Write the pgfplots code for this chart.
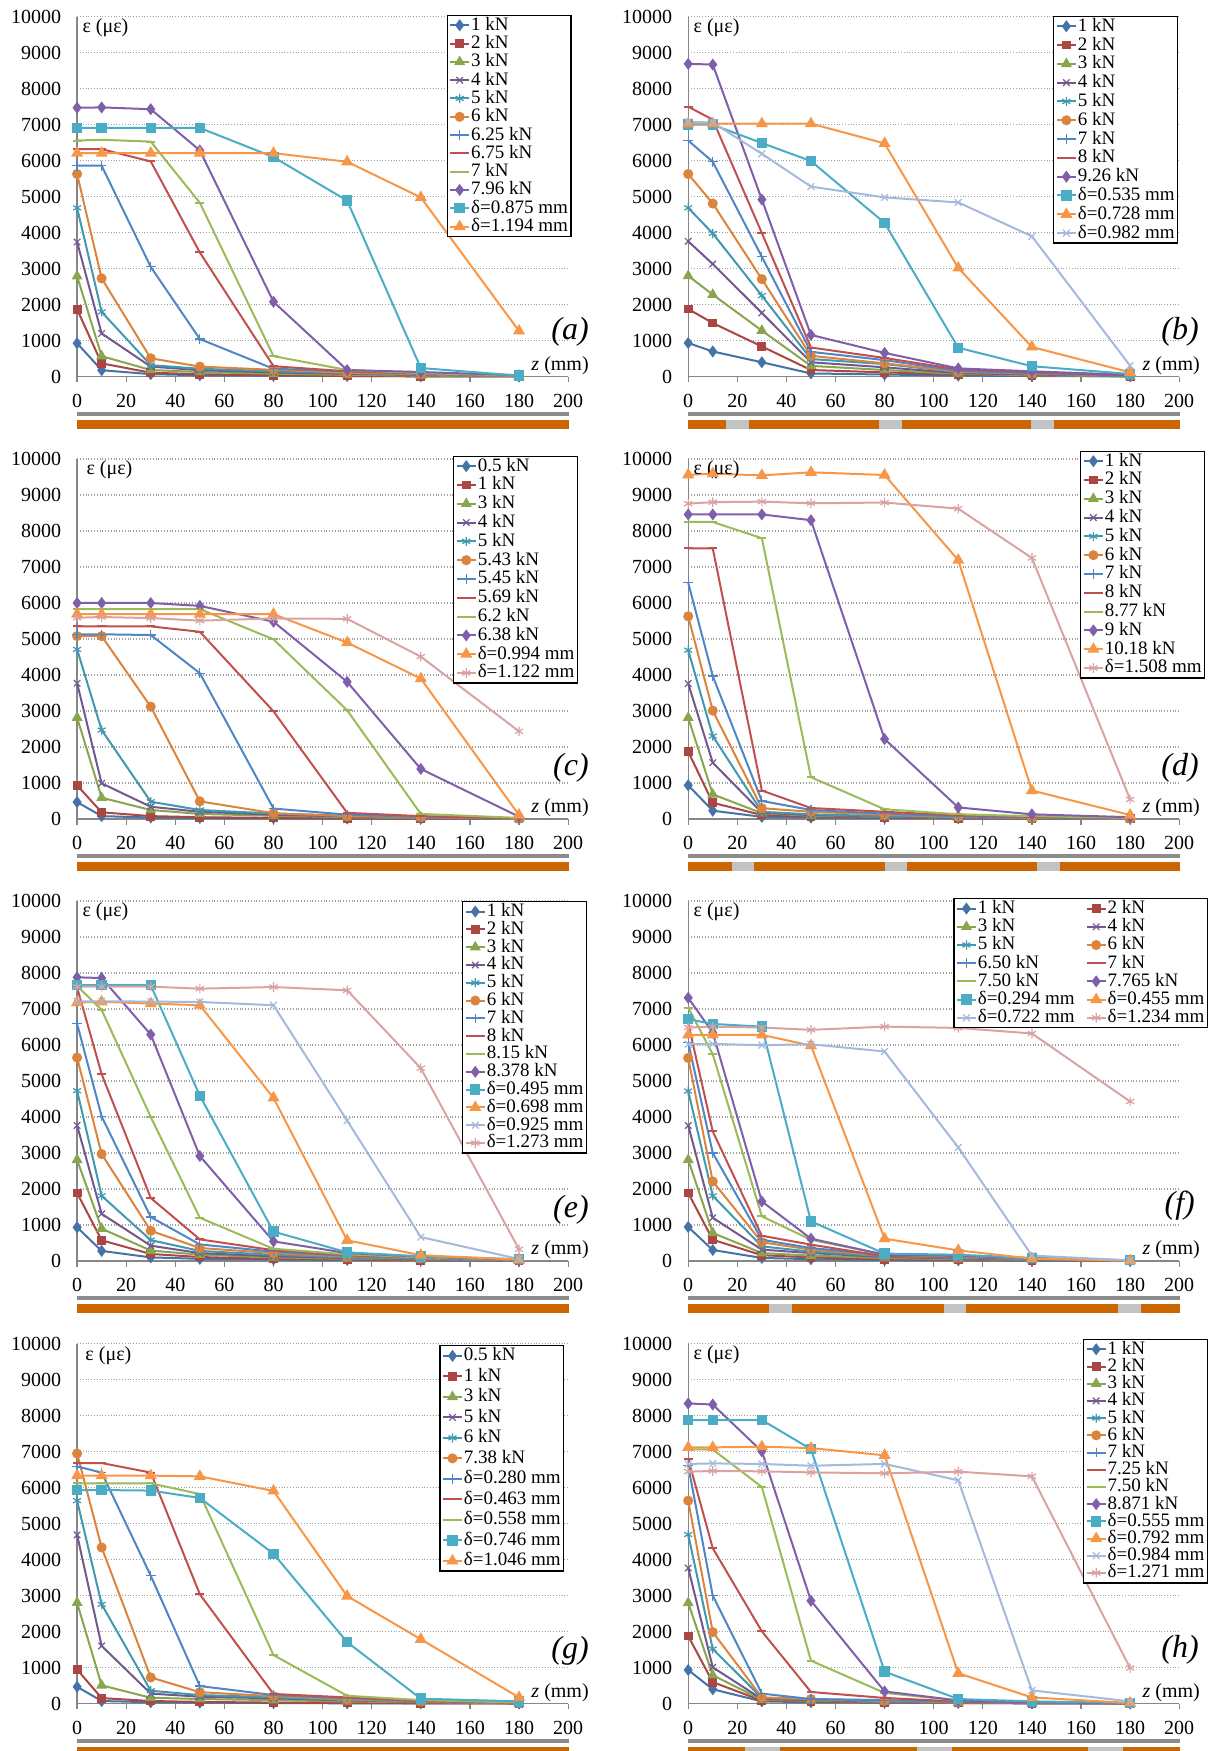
\documentclass[border=0pt]{standalone}
\usepackage{pgfplots}
\usepackage{pgfplotstable}
\pgfplotsset{compat=1.18}
\usepackage{fontspec}
\setmainfont{Liberation Serif}
\definecolor{c1}{HTML}{4572A7}
\definecolor{c2}{HTML}{AA4643}
\definecolor{c3}{HTML}{89A54E}
\definecolor{c4}{HTML}{71588F}
\definecolor{c5}{HTML}{4198AF}
\definecolor{c6}{HTML}{DB843D}
\definecolor{c7}{HTML}{4F86C6}
\definecolor{c8}{HTML}{C0504D}
\definecolor{c9}{HTML}{9BBB59}
\definecolor{c10}{HTML}{7F5FAA}
\definecolor{c11}{HTML}{4BACC6}
\definecolor{c12}{HTML}{F79646}
\definecolor{c13}{HTML}{A5B9DC}
\definecolor{c14}{HTML}{D9A3A2}
\definecolor{axisgray}{HTML}{868686}
\definecolor{gridgray}{HTML}{A0A0A0}
\definecolor{bargray}{HTML}{8C8C8C}
\definecolor{barorange}{HTML}{CC6600}
\definecolor{gaplight}{HTML}{C3C3C3}

\pgfplotstableread{
z p1 p2 p3 p4 p5 p6 p7 p8 p9 p10 p11 p12
0 930 1870 2790 3740 4690 5630 5860 6320 6560 7470 6910 6210
10 180 370 570 1200 1800 2730 5860 6320 6580 7480 6910 6210
30 70 110 185 280 320 510 3050 5980 6530 7430 6910 6210
50 40 70 130 180 220 280 1045 3450 4830 6285 6910 6210
80 30 40 80 120 150 190 220 290 570 2080 6100 6210
110 20 20 50 80 100 110 150 150 185 185 4890 5970
140 10 10 30 50 60 70 80 90 100 130 240 4980
180 5 5 10 20 20 20 30 30 30 40 30 1270
}\Ta
\pgfplotstableread{
z p1 p2 p3 p4 p5 p6 p7 p8 p10 p11 p12 p13
0 935 1880 2800 3760 4690 5630 6560 7500 8690 7000 7030 7080
10 700 1490 2280 3130 3980 4810 5970 7140 8670 7000 7030 7060
30 400 840 1280 1770 2250 2710 3330 3990 4920 6490 7030 6190
50 90 185 300 400 490 580 690 810 1160 5990 7030 5280
80 60 120 185 260 350 370 460 520 660 4270 6480 4980
110 30 60 80 100 130 140 160 200 230 805 3020 4840
140 20 30 40 60 80 90 100 120 150 290 825 3900
180 10 10 10 20 20 30 30 40 50 75 120 305
}\Tb
\pgfplotstableread{
z p1 p2 p3 p4 p5 p6 p7 p8 p9 p10 p12 p14
0 470 935 2815 3770 4710 5080 5130 5350 5830 6000 5690 5590
10 80 185 590 990 2470 5080 5130 5350 5830 6000 5690 5610
30 40 80 250 340 480 3120 5110 5350 5830 6000 5690 5580
50 30 50 140 200 250 490 4050 5200 5830 5920 5690 5510
80 20 30 90 120 150 160 290 2990 4990 5480 5690 5570
110 10 20 50 70 90 80 120 170 3020 3810 4900 5560
140 10 10 30 40 50 50 60 80 140 1390 3900 4510
180 5 5 10 10 10 10 20 20 30 65 110 2435
}\Tc
\pgfplotstableread{
z p1 p2 p3 p4 p5 p6 p7 p8 p9 p10 p12 p14
0 935 1870 2815 3760 4690 5630 6565 7520 8250 8460 9560 8760
10 230 450 685 1565 2305 3010 3970 7520 8250 8460 9590 8800
30 60 110 160 175 200 300 500 790 7800 8460 9545 8815
50 40 70 90 110 130 200 250 305 1160 8300 9630 8770
80 30 40 60 70 80 120 150 200 270 2220 9555 8790
110 20 20 40 40 50 60 70 100 130 320 7190 8620
140 10 10 20 20 30 30 40 60 80 130 790 7250
180 5 5 10 10 10 10 10 20 30 50 110 545
}\Td
\pgfplotstableread{
z p1 p2 p3 p4 p5 p6 p7 p8 p9 p10 p11 p12 p13 p14
0 935 1890 2810 3765 4730 5650 6590 7600 7640 7880 7660 7180 7215 7620
10 280 575 900 1310 1810 2970 4015 5190 6975 7860 7660 7200 7215 7620
30 100 195 290 425 580 840 1220 1750 4000 6290 7660 7150 7205 7620
50 60 110 175 220 280 360 460 600 1200 2915 4590 7105 7195 7565
80 40 60 100 130 170 220 260 300 340 545 815 4530 7105 7610
110 30 40 60 80 100 120 140 160 185 220 240 575 3900 7520
140 20 20 40 50 60 70 80 90 100 120 130 160 665 5355
180 10 10 10 10 20 20 20 30 30 40 50 40 55 325
}\Te
\pgfplotstableread{
z p1 p2 p3 p4 p5 p6 p7 p8 p9 p10 p11 p12 p13 p14
0 945 1890 2810 3765 4720 5640 6070 6605 7040 7310 6715 6280 6020 6485
10 305 590 780 1200 1810 2210 3000 3600 5745 6345 6585 6280 6030 6510
30 85 160 220 315 405 520 590 700 1240 1655 6510 6280 5995 6485
50 50 100 150 220 260 315 360 455 590 620 1100 5985 6020 6420
80 30 50 80 110 130 150 170 130 175 175 205 620 5820 6510
110 20 30 50 70 90 100 110 120 130 140 175 295 3155 6475
140 10 20 30 40 50 60 60 70 80 80 80 65 150 6320
180 5 5 10 10 10 10 10 10 10 10 20 10 20 4430
}\Tf
\pgfplotstableread{
z p1 p2 p3 p4 p5 p6 p7 p8 p9 p11 p12
0 470 950 2805 4690 5640 6950 6590 6685 6120 5935 6335
10 75 155 510 1605 2760 4340 6420 6685 6120 5935 6335
30 40 75 165 280 360 730 3555 6420 6120 5920 6335
50 30 50 130 195 240 320 490 3040 5825 5715 6315
80 20 30 100 150 180 210 240 270 1350 4165 5910
110 10 20 60 90 100 120 150 175 220 1710 2990
140 10 10 40 50 60 60 70 80 100 140 1790
180 5 5 10 10 10 10 20 20 30 65 175
}\Tg
\pgfplotstableread{
z p1 p2 p3 p4 p5 p6 p7 p8 p9 p10 p11 p12 p13 p14
0 935 1880 2800 3770 4700 5640 6610 6800 7070 8340 7880 7120 6660 6445
10 400 600 790 1010 1520 1990 3000 4320 7060 8310 7880 7120 6675 6465
30 65 85 110 130 160 175 280 2010 6020 7010 7880 7140 6660 6455
50 40 60 80 100 120 130 130 325 1195 2860 7070 7100 6610 6425
80 30 40 50 60 70 80 100 160 300 340 890 6900 6660 6400
110 20 20 30 40 40 50 50 60 90 90 130 845 6205 6445
140 10 10 20 20 20 30 30 30 40 40 65 175 370 6315
180 5 5 10 10 10 10 10 10 10 10 20 20 65 990
}\Th

\pgfplotsset{
  s1/.style={color=c1, line width=1pt, mark=diamond*, mark size=2.2pt, mark options={fill=c1}},
  s2/.style={color=c2, line width=1pt, mark=square*, mark size=1.7pt, mark options={fill=c2}},
  s3/.style={color=c3, line width=1pt, mark=triangle*, mark size=2.2pt, mark options={fill=c3}},
  s4/.style={color=c4, line width=1pt, mark=x, mark size=2.3pt, mark options={line width=0.6pt}},
  s5/.style={color=c5, line width=1pt, mark=asterisk, mark size=2.3pt, mark options={line width=0.6pt}},
  s6/.style={color=c6, line width=1pt, mark=*, mark size=2pt, mark options={fill=c6}},
  s7/.style={color=c7, line width=1pt, mark=+, mark size=2.4pt, mark options={line width=0.6pt}},
  s8/.style={color=c8, line width=1pt, mark=-, mark size=2.2pt},
  s9/.style={color=c9, line width=1pt, mark=-, mark size=2.2pt},
  s10/.style={color=c10, line width=1pt, mark=diamond*, mark size=2.2pt, mark options={fill=c10}},
  s11/.style={color=c11, line width=1pt, mark=square*, mark size=2.1pt, mark options={fill=c11}},
  s12/.style={color=c12, line width=1pt, mark=triangle*, mark size=2.5pt, mark options={fill=c12}},
  s13/.style={color=c13, line width=1pt, mark=x, mark size=2.4pt, mark options={line width=0.6pt}},
  s14/.style={color=c14, line width=1pt, mark=asterisk, mark size=2.4pt, mark options={line width=0.6pt}},
  panel/.style={
    scale only axis, width=245.5pt, height=180pt, anchor=south west,
    xmin=0, xmax=200, ymin=0, ymax=10000,
    xtick={0,20,...,200}, ytick={0,1000,...,10000},
    axis x line*=bottom, axis y line*=left,
    axis line style={-, draw=axisgray, line width=0.7pt},
    tick align=outside, major tick length=2.8pt,
    xtick style={draw=axisgray, line width=0.6pt},
    ytick style={draw=none},
    ymajorgrids, grid style={densely dotted, draw=gridgray, line width=0.55pt},
    tick label style={font=\fontsize{10}{12}\selectfont},
    xticklabel={\pgfmathprintnumber[assume math mode=true]{\tick}},
    yticklabel={\pgfmathprintnumber[fixed,1000 sep={},assume math mode=true]{\tick}},
    xticklabel style={yshift=-2.2pt},
    yticklabel style={xshift=-1.7pt},
    scaled ticks=false,
    clip=false,
    legend cell align=left,
    legend image code/.code={\draw[mark repeat=2,mark phase=2] plot coordinates {(0pt,0pt) (4.75pt,0pt) (9.5pt,0pt)};},
    legend style={at={(1,1)}, anchor=north east, draw=black, line width=0.6pt, fill=white,
      font=\fontsize{9.5}{9.5}\selectfont, inner sep=1pt,
      nodes={inner ysep=0pt, inner xsep=0.5pt, text height=6.5pt, text depth=1.5pt}},
  },
}

\begin{document}
\begin{tikzpicture}
\useasboundingbox (0,0) rectangle (605.5pt,875.5pt);

% (a)
\begin{axis}[panel, at={(38.55pt,687.15pt)},
  legend style={xshift=1.7pt, yshift=1pt, row sep=1.15pt}]
\addplot[s1] table[x=z,y=p1]{\Ta}; \addlegendentry{1 kN}
\addplot[s2] table[x=z,y=p2]{\Ta}; \addlegendentry{2 kN}
\addplot[s3] table[x=z,y=p3]{\Ta}; \addlegendentry{3 kN}
\addplot[s4] table[x=z,y=p4]{\Ta}; \addlegendentry{4 kN}
\addplot[s5] table[x=z,y=p5]{\Ta}; \addlegendentry{5 kN}
\addplot[s6] table[x=z,y=p6]{\Ta}; \addlegendentry{6 kN}
\addplot[s7] table[x=z,y=p7]{\Ta}; \addlegendentry{6.25 kN}
\addplot[s8] table[x=z,y=p8]{\Ta}; \addlegendentry{6.75 kN}
\addplot[s9] table[x=z,y=p9]{\Ta}; \addlegendentry{7 kN}
\addplot[s10] table[x=z,y=p10]{\Ta}; \addlegendentry{7.96 kN}
\addplot[s11] table[x=z,y=p11]{\Ta}; \addlegendentry{δ=0.875 mm}
\addplot[s12] table[x=z,y=p12]{\Ta}; \addlegendentry{δ=1.194 mm}
\node[anchor=west, inner sep=0pt, font=\fontsize{10}{12}\selectfont, xshift=2.5pt, yshift=-5.5pt] at (rel axis cs:0,1) {ε (με)};
\node[anchor=east, inner sep=0pt, font=\fontsize{10}{12}\selectfont, xshift=10.5pt, yshift=5.5pt] at (rel axis cs:1,0) {\textit{z} (mm)};
\node[anchor=east, inner sep=0pt, font=\fontsize{16}{16}\selectfont\itshape, xshift=10.5pt, yshift=22.5pt] at (rel axis cs:1,0) {(a)};
\fill[bargray] ([yshift=-17.75pt]axis cs:0,0) rectangle ([yshift=-19.75pt]axis cs:200.5,0);
\fill[barorange] ([yshift=-21.65pt]axis cs:0,0) rectangle ([yshift=-26.15pt]axis cs:200.5,0);
\end{axis}

% (b)
\begin{axis}[panel, at={(344.1pt,687.15pt)},
  legend style={xshift=-0.5pt, yshift=0.5pt, row sep=1.4pt}]
\addplot[s1] table[x=z,y=p1]{\Tb}; \addlegendentry{1 kN}
\addplot[s2] table[x=z,y=p2]{\Tb}; \addlegendentry{2 kN}
\addplot[s3] table[x=z,y=p3]{\Tb}; \addlegendentry{3 kN}
\addplot[s4] table[x=z,y=p4]{\Tb}; \addlegendentry{4 kN}
\addplot[s5] table[x=z,y=p5]{\Tb}; \addlegendentry{5 kN}
\addplot[s6] table[x=z,y=p6]{\Tb}; \addlegendentry{6 kN}
\addplot[s7] table[x=z,y=p7]{\Tb}; \addlegendentry{7 kN}
\addplot[s8] table[x=z,y=p8]{\Tb}; \addlegendentry{8 kN}
\addplot[s10] table[x=z,y=p10]{\Tb}; \addlegendentry{9.26 kN}
\addplot[s11] table[x=z,y=p11]{\Tb}; \addlegendentry{δ=0.535 mm}
\addplot[s12] table[x=z,y=p12]{\Tb}; \addlegendentry{δ=0.728 mm}
\addplot[s13] table[x=z,y=p13]{\Tb}; \addlegendentry{δ=0.982 mm}
\node[anchor=west, inner sep=0pt, font=\fontsize{10}{12}\selectfont, xshift=2.5pt, yshift=-5.5pt] at (rel axis cs:0,1) {ε (με)};
\node[anchor=east, inner sep=0pt, font=\fontsize{10}{12}\selectfont, xshift=10.5pt, yshift=5.5pt] at (rel axis cs:1,0) {\textit{z} (mm)};
\node[anchor=east, inner sep=0pt, font=\fontsize{16}{16}\selectfont\itshape, xshift=10pt, yshift=22.5pt] at (rel axis cs:1,0) {(b)};
\fill[bargray] ([yshift=-17.75pt]axis cs:0,0) rectangle ([yshift=-19.75pt]axis cs:200.5,0);
\fill[barorange] ([yshift=-21.65pt]axis cs:0,0) rectangle ([yshift=-26.15pt]axis cs:200.5,0);
\fill[gaplight] ([yshift=-21.65pt]axis cs:15.4,0) rectangle ([yshift=-26.15pt]axis cs:24.7,0);
\fill[gaplight] ([yshift=-21.65pt]axis cs:77.6,0) rectangle ([yshift=-26.15pt]axis cs:86.9,0);
\fill[gaplight] ([yshift=-21.65pt]axis cs:139.7,0) rectangle ([yshift=-26.15pt]axis cs:149,0);
\end{axis}

% (c)
\begin{axis}[panel, at={(38.55pt,466.0pt)},
  legend style={xshift=5pt, yshift=1.7pt, row sep=1.4pt}]
\addplot[s1] table[x=z,y=p1]{\Tc}; \addlegendentry{0.5 kN}
\addplot[s2] table[x=z,y=p2]{\Tc}; \addlegendentry{1 kN}
\addplot[s3] table[x=z,y=p3]{\Tc}; \addlegendentry{3 kN}
\addplot[s4] table[x=z,y=p4]{\Tc}; \addlegendentry{4 kN}
\addplot[s5] table[x=z,y=p5]{\Tc}; \addlegendentry{5 kN}
\addplot[s6] table[x=z,y=p6]{\Tc}; \addlegendentry{5.43 kN}
\addplot[s7] table[x=z,y=p7]{\Tc}; \addlegendentry{5.45 kN}
\addplot[s8] table[x=z,y=p8]{\Tc}; \addlegendentry{5.69 kN}
\addplot[s9] table[x=z,y=p9]{\Tc}; \addlegendentry{6.2 kN}
\addplot[s10] table[x=z,y=p10]{\Tc}; \addlegendentry{6.38 kN}
\addplot[s12] table[x=z,y=p12]{\Tc}; \addlegendentry{δ=0.994 mm}
\addplot[s14] table[x=z,y=p14]{\Tc}; \addlegendentry{δ=1.122 mm}
\node[anchor=west, inner sep=0pt, font=\fontsize{10}{12}\selectfont, xshift=4.5pt, yshift=-5.5pt] at (rel axis cs:0,1) {ε (με)};
\node[anchor=east, inner sep=0pt, font=\fontsize{10}{12}\selectfont, xshift=10.5pt, yshift=5.5pt] at (rel axis cs:1,0) {\textit{z} (mm)};
\node[anchor=east, inner sep=0pt, font=\fontsize{16}{16}\selectfont\itshape, xshift=10.5pt, yshift=25.5pt] at (rel axis cs:1,0) {(c)};
\fill[bargray] ([yshift=-17.75pt]axis cs:0,0) rectangle ([yshift=-19.75pt]axis cs:200.5,0);
\fill[barorange] ([yshift=-21.65pt]axis cs:0,0) rectangle ([yshift=-26.15pt]axis cs:200.5,0);
\end{axis}

% (d)
\begin{axis}[panel, at={(344.1pt,466.0pt)},
  legend style={xshift=13pt, yshift=4.2pt, row sep=1.4pt}]
\addplot[s1] table[x=z,y=p1]{\Td}; \addlegendentry{1 kN}
\addplot[s2] table[x=z,y=p2]{\Td}; \addlegendentry{2 kN}
\addplot[s3] table[x=z,y=p3]{\Td}; \addlegendentry{3 kN}
\addplot[s4] table[x=z,y=p4]{\Td}; \addlegendentry{4 kN}
\addplot[s5] table[x=z,y=p5]{\Td}; \addlegendentry{5 kN}
\addplot[s6] table[x=z,y=p6]{\Td}; \addlegendentry{6 kN}
\addplot[s7] table[x=z,y=p7]{\Td}; \addlegendentry{7 kN}
\addplot[s8] table[x=z,y=p8]{\Td}; \addlegendentry{8 kN}
\addplot[s9] table[x=z,y=p9]{\Td}; \addlegendentry{8.77 kN}
\addplot[s10] table[x=z,y=p10]{\Td}; \addlegendentry{9 kN}
\addplot[s12] table[x=z,y=p12]{\Td}; \addlegendentry{10.18 kN}
\addplot[s14] table[x=z,y=p14]{\Td}; \addlegendentry{δ=1.508 mm}
\node[anchor=west, inner sep=0pt, font=\fontsize{10}{12}\selectfont, xshift=2.5pt, yshift=-5.5pt] at (rel axis cs:0,1) {ε (με)};
\node[anchor=east, inner sep=0pt, font=\fontsize{10}{12}\selectfont, xshift=10.5pt, yshift=5.5pt] at (rel axis cs:1,0) {\textit{z} (mm)};
\node[anchor=east, inner sep=0pt, font=\fontsize{16}{16}\selectfont\itshape, xshift=10pt, yshift=25.5pt] at (rel axis cs:1,0) {(d)};
\fill[bargray] ([yshift=-17.75pt]axis cs:0,0) rectangle ([yshift=-19.75pt]axis cs:200.5,0);
\fill[barorange] ([yshift=-21.65pt]axis cs:0,0) rectangle ([yshift=-26.15pt]axis cs:200.5,0);
\fill[gaplight] ([yshift=-21.65pt]axis cs:17.8,0) rectangle ([yshift=-26.15pt]axis cs:27,0);
\fill[gaplight] ([yshift=-21.65pt]axis cs:80,0) rectangle ([yshift=-26.15pt]axis cs:89.2,0);
\fill[gaplight] ([yshift=-21.65pt]axis cs:142,0) rectangle ([yshift=-26.15pt]axis cs:151.3,0);
\end{axis}

% (e)
\begin{axis}[panel, at={(38.55pt,245.0pt)},
  legend style={xshift=9.5pt, yshift=0pt, row sep=0.9pt}]
\addplot[s1] table[x=z,y=p1]{\Te}; \addlegendentry{1 kN}
\addplot[s2] table[x=z,y=p2]{\Te}; \addlegendentry{2 kN}
\addplot[s3] table[x=z,y=p3]{\Te}; \addlegendentry{3 kN}
\addplot[s4] table[x=z,y=p4]{\Te}; \addlegendentry{4 kN}
\addplot[s5] table[x=z,y=p5]{\Te}; \addlegendentry{5 kN}
\addplot[s6] table[x=z,y=p6]{\Te}; \addlegendentry{6 kN}
\addplot[s7] table[x=z,y=p7]{\Te}; \addlegendentry{7 kN}
\addplot[s8] table[x=z,y=p8]{\Te}; \addlegendentry{8 kN}
\addplot[s9] table[x=z,y=p9]{\Te}; \addlegendentry{8.15 kN}
\addplot[s10] table[x=z,y=p10]{\Te}; \addlegendentry{8.378 kN}
\addplot[s11] table[x=z,y=p11]{\Te}; \addlegendentry{δ=0.495 mm}
\addplot[s12] table[x=z,y=p12]{\Te}; \addlegendentry{δ=0.698 mm}
\addplot[s13] table[x=z,y=p13]{\Te}; \addlegendentry{δ=0.925 mm}
\addplot[s14] table[x=z,y=p14]{\Te}; \addlegendentry{δ=1.273 mm}
\node[anchor=west, inner sep=0pt, font=\fontsize{10}{12}\selectfont, xshift=2.5pt, yshift=-5.5pt] at (rel axis cs:0,1) {ε (με)};
\node[anchor=east, inner sep=0pt, font=\fontsize{10}{12}\selectfont, xshift=10.5pt, yshift=5.5pt] at (rel axis cs:1,0) {\textit{z} (mm)};
\node[anchor=east, inner sep=0pt, font=\fontsize{16}{16}\selectfont\itshape, xshift=10.5pt, yshift=25.5pt] at (rel axis cs:1,0) {(e)};
\fill[bargray] ([yshift=-17.75pt]axis cs:0,0) rectangle ([yshift=-19.75pt]axis cs:200.5,0);
\fill[barorange] ([yshift=-21.65pt]axis cs:0,0) rectangle ([yshift=-26.15pt]axis cs:200.5,0);
\end{axis}

% (f)
\begin{axis}[panel, at={(344.1pt,245.0pt)}, legend columns=2,
  legend style={xshift=14.4pt, yshift=1.5pt, row sep=1.1pt, /tikz/every even column/.append style={column sep=5pt}}]
\addplot[s1] table[x=z,y=p1]{\Tf}; \addlegendentry{1 kN}
\addplot[s2] table[x=z,y=p2]{\Tf}; \addlegendentry{2 kN}
\addplot[s3] table[x=z,y=p3]{\Tf}; \addlegendentry{3 kN}
\addplot[s4] table[x=z,y=p4]{\Tf}; \addlegendentry{4 kN}
\addplot[s5] table[x=z,y=p5]{\Tf}; \addlegendentry{5 kN}
\addplot[s6] table[x=z,y=p6]{\Tf}; \addlegendentry{6 kN}
\addplot[s7] table[x=z,y=p7]{\Tf}; \addlegendentry{6.50 kN}
\addplot[s8] table[x=z,y=p8]{\Tf}; \addlegendentry{7 kN}
\addplot[s9] table[x=z,y=p9]{\Tf}; \addlegendentry{7.50 kN}
\addplot[s10] table[x=z,y=p10]{\Tf}; \addlegendentry{7.765 kN}
\addplot[s11] table[x=z,y=p11]{\Tf}; \addlegendentry{δ=0.294 mm}
\addplot[s12] table[x=z,y=p12]{\Tf}; \addlegendentry{δ=0.455 mm}
\addplot[s13] table[x=z,y=p13]{\Tf}; \addlegendentry{δ=0.722 mm}
\addplot[s14] table[x=z,y=p14]{\Tf}; \addlegendentry{δ=1.234 mm}
\node[anchor=west, inner sep=0pt, font=\fontsize{10}{12}\selectfont, xshift=2.5pt, yshift=-5.5pt] at (rel axis cs:0,1) {ε (με)};
\node[anchor=east, inner sep=0pt, font=\fontsize{10}{12}\selectfont, xshift=10.5pt, yshift=5.5pt] at (rel axis cs:1,0) {\textit{z} (mm)};
\node[anchor=east, inner sep=0pt, font=\fontsize{16}{16}\selectfont\itshape, xshift=8pt, yshift=27.5pt] at (rel axis cs:1,0) {(f)};
\fill[bargray] ([yshift=-17.75pt]axis cs:0,0) rectangle ([yshift=-19.75pt]axis cs:200.5,0);
\fill[barorange] ([yshift=-21.65pt]axis cs:0,0) rectangle ([yshift=-26.15pt]axis cs:200.5,0);
\fill[gaplight] ([yshift=-21.65pt]axis cs:33,0) rectangle ([yshift=-26.15pt]axis cs:42.3,0);
\fill[gaplight] ([yshift=-21.65pt]axis cs:104,0) rectangle ([yshift=-26.15pt]axis cs:113.3,0);
\fill[gaplight] ([yshift=-21.65pt]axis cs:175,0) rectangle ([yshift=-26.15pt]axis cs:184.3,0);
\end{axis}

% (g)
\begin{axis}[panel, at={(38.55pt,23.65pt)},
  legend style={xshift=-1.9pt, yshift=-0.8pt, row sep=2.25pt}]
\addplot[s1] table[x=z,y=p1]{\Tg}; \addlegendentry{0.5 kN}
\addplot[s2] table[x=z,y=p2]{\Tg}; \addlegendentry{1 kN}
\addplot[s3] table[x=z,y=p3]{\Tg}; \addlegendentry{3 kN}
\addplot[s4] table[x=z,y=p4]{\Tg}; \addlegendentry{5 kN}
\addplot[s5] table[x=z,y=p5]{\Tg}; \addlegendentry{6 kN}
\addplot[s6] table[x=z,y=p6]{\Tg}; \addlegendentry{7.38 kN}
\addplot[s7] table[x=z,y=p7]{\Tg}; \addlegendentry{δ=0.280 mm}
\addplot[s8] table[x=z,y=p8]{\Tg}; \addlegendentry{δ=0.463 mm}
\addplot[s9] table[x=z,y=p9]{\Tg}; \addlegendentry{δ=0.558 mm}
\addplot[s11] table[x=z,y=p11]{\Tg}; \addlegendentry{δ=0.746 mm}
\addplot[s12] table[x=z,y=p12]{\Tg}; \addlegendentry{δ=1.046 mm}
\node[anchor=west, inner sep=0pt, font=\fontsize{10}{12}\selectfont, xshift=4pt, yshift=-6pt] at (rel axis cs:0,1) {ε (με)};
\node[anchor=east, inner sep=0pt, font=\fontsize{10}{12}\selectfont, xshift=10.5pt, yshift=5.5pt] at (rel axis cs:1,0) {\textit{z} (mm)};
\node[anchor=east, inner sep=0pt, font=\fontsize{16}{16}\selectfont\itshape, xshift=10.5pt, yshift=26.5pt] at (rel axis cs:1,0) {(g)};
\fill[bargray] ([yshift=-17.75pt]axis cs:0,0) rectangle ([yshift=-19.75pt]axis cs:200.5,0);
\fill[barorange] ([yshift=-21.65pt]axis cs:0,0) rectangle ([yshift=-26.15pt]axis cs:200.5,0);
\end{axis}

% (h)
\begin{axis}[panel, at={(344.1pt,23.65pt)},
  legend style={xshift=14.4pt, yshift=2.5pt, row sep=0.6pt}]
\addplot[s1] table[x=z,y=p1]{\Th}; \addlegendentry{1 kN}
\addplot[s2] table[x=z,y=p2]{\Th}; \addlegendentry{2 kN}
\addplot[s3] table[x=z,y=p3]{\Th}; \addlegendentry{3 kN}
\addplot[s4] table[x=z,y=p4]{\Th}; \addlegendentry{4 kN}
\addplot[s5] table[x=z,y=p5]{\Th}; \addlegendentry{5 kN}
\addplot[s6] table[x=z,y=p6]{\Th}; \addlegendentry{6 kN}
\addplot[s7] table[x=z,y=p7]{\Th}; \addlegendentry{7 kN}
\addplot[s8] table[x=z,y=p8]{\Th}; \addlegendentry{7.25 kN}
\addplot[s9] table[x=z,y=p9]{\Th}; \addlegendentry{7.50 kN}
\addplot[s10] table[x=z,y=p10]{\Th}; \addlegendentry{8.871 kN}
\addplot[s11] table[x=z,y=p11]{\Th}; \addlegendentry{δ=0.555 mm}
\addplot[s12] table[x=z,y=p12]{\Th}; \addlegendentry{δ=0.792 mm}
\addplot[s13] table[x=z,y=p13]{\Th}; \addlegendentry{δ=0.984 mm}
\addplot[s14] table[x=z,y=p14]{\Th}; \addlegendentry{δ=1.271 mm}
\node[anchor=west, inner sep=0pt, font=\fontsize{10}{12}\selectfont, xshift=2.5pt, yshift=-5.5pt] at (rel axis cs:0,1) {ε (με)};
\node[anchor=east, inner sep=0pt, font=\fontsize{10}{12}\selectfont, xshift=10.5pt, yshift=5.5pt] at (rel axis cs:1,0) {\textit{z} (mm)};
\node[anchor=east, inner sep=0pt, font=\fontsize{16}{16}\selectfont\itshape, xshift=10pt, yshift=27pt] at (rel axis cs:1,0) {(h)};
\fill[bargray] ([yshift=-17.75pt]axis cs:0,0) rectangle ([yshift=-19.75pt]axis cs:200.5,0);
\fill[barorange] ([yshift=-21.65pt]axis cs:0,0) rectangle ([yshift=-26.15pt]axis cs:200.5,0);
\fill[gaplight] ([yshift=-21.65pt]axis cs:23.2,0) rectangle ([yshift=-26.15pt]axis cs:37.5,0);
\fill[gaplight] ([yshift=-21.65pt]axis cs:93.2,0) rectangle ([yshift=-26.15pt]axis cs:107.6,0);
\fill[gaplight] ([yshift=-21.65pt]axis cs:162.9,0) rectangle ([yshift=-26.15pt]axis cs:177.1,0);
\end{axis}
\end{tikzpicture}
\end{document}
